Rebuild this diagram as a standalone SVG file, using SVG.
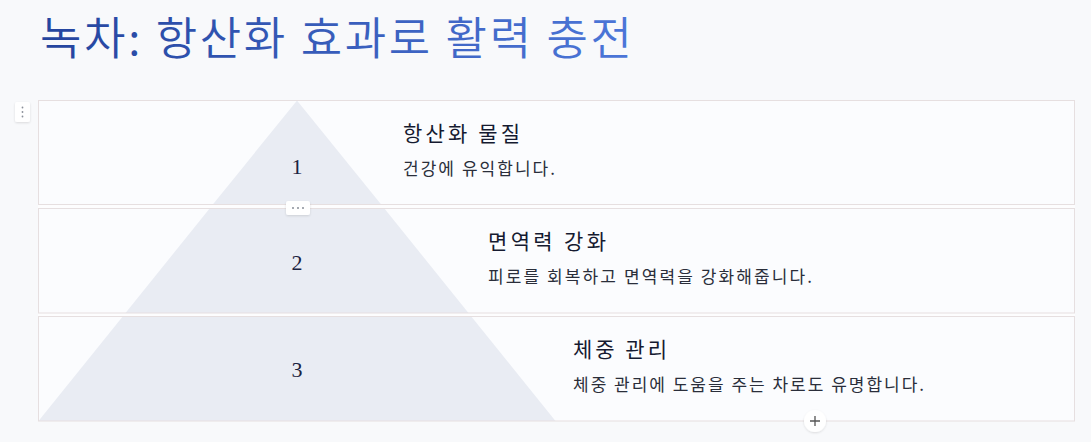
<svg xmlns="http://www.w3.org/2000/svg" width="1091" height="442" viewBox="0 0 1091 442">
  <defs>
    <linearGradient id="titleGrad" gradientUnits="userSpaceOnUse" x1="40" y1="0" x2="630" y2="0">
      <stop offset="0" stop-color="#24449e"/>
      <stop offset="1" stop-color="#4c76d8"/>
    </linearGradient>
    <filter id="sh" x="-50%" y="-50%" width="200%" height="200%">
      <feDropShadow dx="0" dy="1" stdDeviation="1" flood-color="#000" flood-opacity="0.12"/>
    </filter>
    <style>
      .bg{fill:#f8f9fb}
      .boxfill{fill:#fbfcfe}
      .border{fill:none;stroke:#e6dfe0;stroke-width:1}
      .tri{fill:#e9ecf3}
      .num{font-family:"Liberation Serif","DejaVu Serif",serif;font-size:22px;fill:#1b2340;text-anchor:middle}
      .head{font-family:"Noto Sans CJK KR","Noto Sans",sans-serif;font-size:21px;fill:#151a30}
      .desc{font-family:"Noto Sans CJK KR","Noto Sans",sans-serif;font-size:17px;fill:#2a2e3a}
      .title{font-family:"Noto Sans CJK KR","Noto Sans",sans-serif;font-size:45px;font-weight:350;fill:url(#titleGrad)}
      .btn{fill:#ffffff;filter:url(#sh)}
      .dot{fill:#8a8f99}
    </style>
  </defs>

  <rect class="bg" x="0" y="0" width="1091" height="442"/>

  <text class="title" x="40" y="55" textLength="592" lengthAdjust="spacing">녹차: 항산화 효과로 활력 충전</text>

  <g id="handle">
    <rect class="btn" x="15" y="102" width="15" height="20" rx="2"/>
    <circle class="dot" cx="22.5" cy="107.5" r="0.9"/>
    <circle class="dot" cx="22.5" cy="112" r="0.9"/>
    <circle class="dot" cx="22.5" cy="116.5" r="0.9"/>
  </g>

  <rect x="38" y="204.5" width="1037" height="4" fill="#fdfdfe"/>
  <rect x="38" y="313" width="1037" height="3.5" fill="#fdfdfe"/>

  <g id="node-1">
    <rect class="boxfill" x="38.5" y="100.5" width="1036" height="104"/>
    <polygon class="tri" points="297,100.5 381.2,204.5 212.8,204.5"/>
    <rect class="border" x="38.5" y="100.5" width="1036" height="104"/>
    <text class="num" x="297" y="174">1</text>
    <text class="head" x="403" y="141" textLength="117" lengthAdjust="spacing">항산화 물질</text>
    <text class="desc" x="403" y="175" textLength="152" lengthAdjust="spacing">건강에 유익합니다.</text>
  </g>

  <g id="node-2">
    <rect class="boxfill" x="38.5" y="208.5" width="1036" height="104.5"/>
    <polygon class="tri" points="209.6,208.5 384.4,208.5 468.5,313 125.5,313"/>
    <rect class="border" x="38.5" y="208.5" width="1036" height="104.5"/>
    <text class="num" x="297" y="270">2</text>
    <text class="head" x="488" y="249" textLength="118" lengthAdjust="spacing">면역력 강화</text>
    <text class="desc" x="488" y="283" textLength="324" lengthAdjust="spacing">피로를 회복하고 면역력을 강화해줍니다.</text>
  </g>

  <g id="node-3">
    <rect class="boxfill" x="38.5" y="316.5" width="1036" height="104.5"/>
    <polygon class="tri" points="122.7,316.5 471.3,316.5 555.5,421 38.5,421"/>
    <rect class="border" x="38.5" y="316.5" width="1036" height="104.5"/>
    <text class="num" x="297" y="377">3</text>
    <text class="head" x="573" y="357" textLength="94" lengthAdjust="spacing">체중 관리</text>
    <text class="desc" x="573" y="391" textLength="351" lengthAdjust="spacing">체중 관리에 도움을 주는 차로도 유명합니다.</text>
  </g>

  <g id="connectors">
    <g id="more-btn">
      <rect class="btn" x="286" y="201" width="24" height="14" rx="2"/>
      <circle class="dot" cx="293" cy="208" r="1"/>
      <circle class="dot" cx="298" cy="208" r="1"/>
      <circle class="dot" cx="303" cy="208" r="1"/>
    </g>
    <g id="add-btn">
      <circle class="btn" cx="815" cy="421" r="11" fill="#fdfcfb"/>
      <path d="M810 421h10M815 416v10" stroke="#555" stroke-width="1.3" fill="none"/>
    </g>
  </g>
</svg>
